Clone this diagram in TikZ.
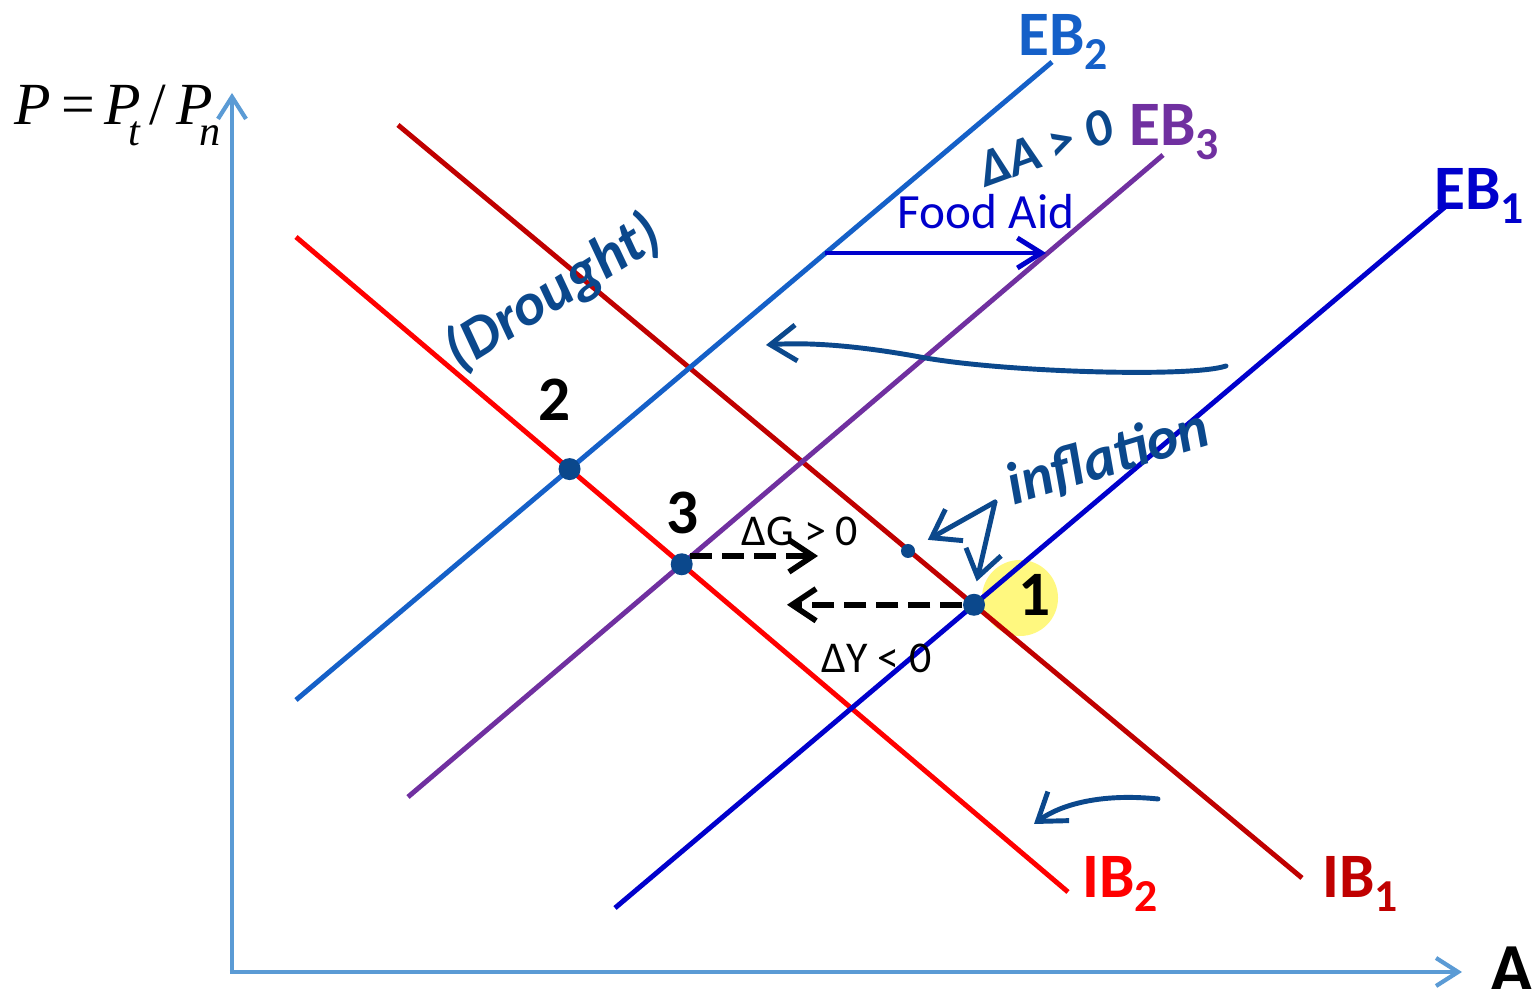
\documentclass[tikz,border=0pt]{standalone}
\usepackage{fontspec}
\setmainfont{Carlito}
\newfontfamily\axisserif{Liberation Serif}
\usetikzlibrary{arrows.meta,positioning,calc}
\definecolor{axisblue}{RGB}{91,155,213}
\definecolor{ebtwo}{RGB}{21,96,200}
\definecolor{ebthree}{RGB}{112,48,160}
\definecolor{ebone}{RGB}{0,0,204}
\definecolor{ibone}{RGB}{192,0,0}
\definecolor{ibtwo}{RGB}{255,0,0}
\definecolor{ink}{RGB}{11,72,140}
\newcommand{\lowidx}[1]{\raisebox{-0.45ex}{\fontsize{13}{13}\selectfont #1}}
\newcommand{\lowital}[1]{\kern-0.22em\raisebox{-0.75ex}{\fontsize{12}{12}\selectfont #1}}

\begin{document}
\begin{tikzpicture}[
    x=0.01cm, y=-0.01cm,
    axis/.style={-{Straight Barb[length=2.2mm,width=2.8mm]}, line width=1.2pt, draw=axisblue},
    curve/.style={line width=1.4pt},
    clab/.style={font=\fontsize{18}{18}\selectfont\bfseries, inner sep=0pt},
    numlab/.style={font=\fontsize{18}{18}\selectfont\bfseries, inner sep=0pt},
    dotpt/.style={circle, fill=ink, minimum size=2.2mm, inner sep=0pt},
    smalldot/.style={circle, fill=ink, minimum size=1.4mm, inner sep=0pt},
    move/.style={-{Straight Barb[length=2.4mm,width=3.2mm]}, line width=1.6pt, dash pattern=on 2.2mm off 1mm},
    dlab/.style={font=\fontsize{12.5}{12.5}\selectfont, inner sep=0pt},
    hand/.style={font=\fontsize{17}{17}\selectfont\bfseries\itshape, text=ink, inner sep=0pt},
    handarrow/.style={-{Straight Barb[length=2.6mm,width=3.6mm]}, line width=1.4pt, draw=ink, line cap=round}
  ]
  \useasboundingbox (0,0) rectangle (1538,989);

  \coordinate (origin) at (232,972);
  \coordinate (ytop) at (232,93);
  \coordinate (xend) at (1462,972);
  \draw[axis] (origin) -- (ytop);
  \draw[axis] ([xshift=-0.6pt]origin) -- (xend);
  \node[font=\fontsize{17}{17}\selectfont\axisserif\itshape, inner sep=0pt, anchor=base west] (plab) at (14,125)
    {P\,{\upshape =}\,P\lowital{t}\,{\upshape /}\,P\lowital{n}};
  \node[numlab, font=\fontsize{20}{20}\selectfont\bfseries] (alab) at (1512,970) {A};

  \coordinate (eb2a) at (296,700);  \coordinate (eb2b) at (1052,62);
  \coordinate (eb3a) at (408,797);  \coordinate (eb3b) at (1163,155);
  \coordinate (eb1a) at (615,908);  \coordinate (eb1b) at (1445,207);
  \coordinate (ib1a) at (398,125);  \coordinate (ib1b) at (1302,878);
  \coordinate (ib2a) at (296,237);  \coordinate (ib2b) at (1068,892);

  \node[circle, fill=yellow, fill opacity=0.5, minimum size=0.76cm, inner sep=0pt] (glow) at (1020,598) {};

  \draw[curve, ibone] (ib1a) -- (ib1b);
  \draw[curve, ibtwo] (ib2a) -- (ib2b);
  \draw[curve, ebtwo] (eb2a) -- (eb2b);
  \draw[curve, ebthree] (eb3a) -- (eb3b);
  \draw[curve, ebone] (eb1a) -- (eb1b);

  \node[clab, text=ebtwo] (eb2lab) at (1063,42) {EB\lowidx{2}};
  \node[clab, text=ebthree] (eb3lab) at (1174,132) {EB\lowidx{3}};
  \node[clab, text=ebone] (eb1lab) at (1479,196) {EB\lowidx{1}};
  \node[clab, text=ibtwo] (ib2lab) at (1120,884) {IB\lowidx{2}};
  \node[clab, text=ibone] (ib1lab) at (1360,884) {IB\lowidx{1}};

  \node[dotpt] (p2) at (intersection of eb2a--eb2b and ib2a--ib2b) {};
  \node[dotpt] (p3) at (intersection of eb3a--eb3b and ib2a--ib2b) {};
  \node[dotpt] (p1) at (intersection of eb1a--eb1b and ib1a--ib1b) {};
  \node[smalldot] (pinf) at (908,551) {};

  \node[numlab] (n2) at (555,400) {2};
  \node[numlab] (n3) at (683,513) {3};
  \node[numlab] (n1) at (1035,595) {1};

  \coordinate (gtip) at (818,558);
  \coordinate (ytip) at (787,604);
  \draw[move] (p3.north east) -- (p3.north east -| gtip);
  \draw[move] (p1.west) -- (p1.west -| ytip);
  \node[dlab] (dg) at (800,531) {ΔG > 0};
  \node[dlab] (dy) at (877,658) {ΔY < 0};

  \coordinate (fa0) at (825,253);
  \coordinate (fa1) at (1046,253);
  \draw[-{Straight Barb[length=2.4mm,width=3mm]}, line width=1.4pt, ebone] (fa0) -- (fa1);
  \node[font=\fontsize{14}{14}\selectfont, text=ebone, inner sep=0pt] (foodaid) at (986,212) {Food Aid};

  \node[hand, font=\fontsize{15}{15}\selectfont\bfseries\itshape, rotate=20] (dalab) at (1045,148) {ΔA > 0};
  \node[hand, rotate=32] (drought) at (553,293) {(Drought)};
  \node[hand, rotate=17] (inflab) at (1108,458) {inflation};

  \coordinate (apex) at (995,502);
  \draw[handarrow, shorten >=1.5mm] (apex) -- (pinf);
  \draw[handarrow, shorten >=1.2mm] (apex) -- (p1.north);

  \coordinate (lw0) at (1226,366);
  \coordinate (lw1) at (766,345);
  \draw[handarrow] (lw0) .. controls (1190,378) and (1000,372) .. (920,357)
    .. controls (860,346) and (810,342) .. (lw1);
  \coordinate (sw0) at (1158,799);
  \coordinate (sw1) at (1034,824);
  \draw[handarrow] (sw0) .. controls (1100,793) and (1060,805) .. (sw1);
\end{tikzpicture}
\end{document}
